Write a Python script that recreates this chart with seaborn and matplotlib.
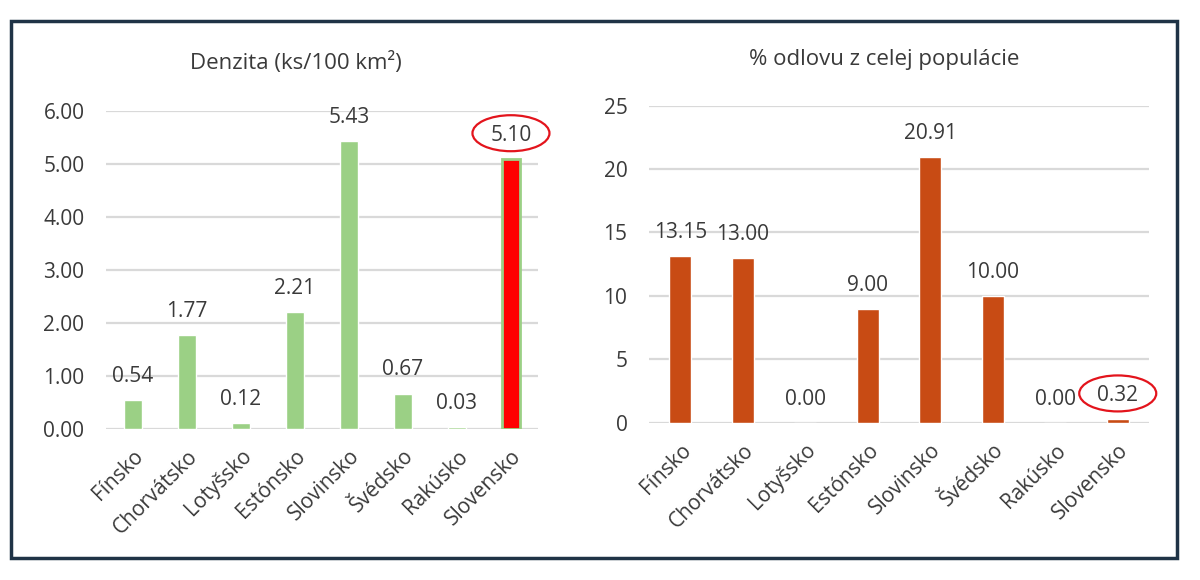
import matplotlib
matplotlib.use('Agg')
import matplotlib.pyplot as plt
import matplotlib.patches as mpatches
import matplotlib.transforms as mtransforms
import seaborn as sns
import pandas as pd

# datos
krajiny = ['Fínsko', 'Chorvátsko', 'Lotyšsko', 'Estónsko', 'Slovinsko', 'Švédsko', 'Rakúsko', 'Slovensko']
denzita = [0.54, 1.77, 0.12, 2.21, 5.43, 0.67, 0.03, 5.10]
odlov = [13.15, 13.00, 0.00, 9.00, 20.91, 10.00, 0.00, 0.32]
titulok_1 = 'Denzita (ks/100 km²)'
titulok_2 = '% odlovu z celej populácie'

zelena = '#9BD085'
cervena = '#FF0000'
oranzova = '#C84B14'
text_farba = '#3A3A3A'

sns.set_style('white')
plt.rcParams['font.family'] = ['Open Sans', 'DejaVu Sans']

df = pd.DataFrame({'krajina': krajiny, 'denzita': denzita, 'odlov': odlov})

fig = plt.figure(figsize=(12, 5.8), dpi=100)
ax1 = fig.add_axes([0.0883, 0.2603, 0.36, 0.5483])
ax2 = fig.add_axes([0.5408, 0.2707, 0.4167, 0.5474])

paleta = [zelena] * (len(krajiny) - 1) + [cervena]
sns.barplot(data=df, x='krajina', y='denzita', hue='krajina', palette=paleta,
            legend=False, width=0.35, saturation=1, ax=ax1)
ax1.patches[-1].set_edgecolor(zelena)
ax1.patches[-1].set_linewidth(2)

sns.barplot(data=df, x='krajina', y='odlov', color=oranzova,
            width=0.35, saturation=1, ax=ax2)

def uprav(ax, hodnoty, ymax, krok, fmt):
    ax.set_ylim(0, ymax)
    ax.set_yticks([i * krok for i in range(int(ymax / krok) + 1)])
    ax.set_yticklabels([fmt.format(i * krok) for i in range(int(ymax / krok) + 1)])
    ax.yaxis.grid(True, color='#D9D9D9', linewidth=1.6)
    ax.set_axisbelow(True)
    for s in ax.spines.values():
        s.set_visible(False)
    ax.set_xlabel('')
    ax.set_ylabel('')
    ax.tick_params(axis='y', length=0, pad=15.5, labelsize=15, labelcolor=text_farba)
    ax.tick_params(axis='x', length=0, pad=12, labelsize=15, labelcolor=text_farba)
    plt.setp(ax.get_xticklabels(), rotation=45, ha='right', rotation_mode='anchor')
    for i, v in enumerate(hodnoty):
        ax.annotate(f'{v:.2f}', (i, v), xytext=(0, 17), textcoords='offset points',
                    ha='center', va='center', fontsize=15, color=text_farba)

uprav(ax1, denzita, 6, 1, '{:.2f}')
uprav(ax2, odlov, 25, 5, '{:.0f}')

# elipsy okolo hodnoty Slovenska
for ax, v in [(ax1, denzita[-1]), (ax2, odlov[-1])]:
    trans = fig.dpi_scale_trans + mtransforms.ScaledTranslation(len(krajiny) - 1, v, ax.transData)
    el = mpatches.Ellipse((0, 0.255), 0.77, 0.36, transform=trans, fill=False,
                          edgecolor='#E3141C', linewidth=1.6, clip_on=False)
    ax.add_artist(el)

fig.text(296 / 1200, 1 - 63 / 580, titulok_1, ha='center', va='center', fontsize=16, color=text_farba)
fig.text(884 / 1200, 1 - 60 / 580, titulok_2, ha='center', va='center', fontsize=16, color=text_farba)

ramik = mpatches.Rectangle((11 / 1200, 1 - 558 / 580), 1166 / 1200, 537 / 580,
                           transform=fig.transFigure, fill=False,
                           edgecolor='#1F3346', linewidth=2.5)
fig.patches.append(ramik)

fig.savefig('out.png', dpi=100, facecolor='white')
